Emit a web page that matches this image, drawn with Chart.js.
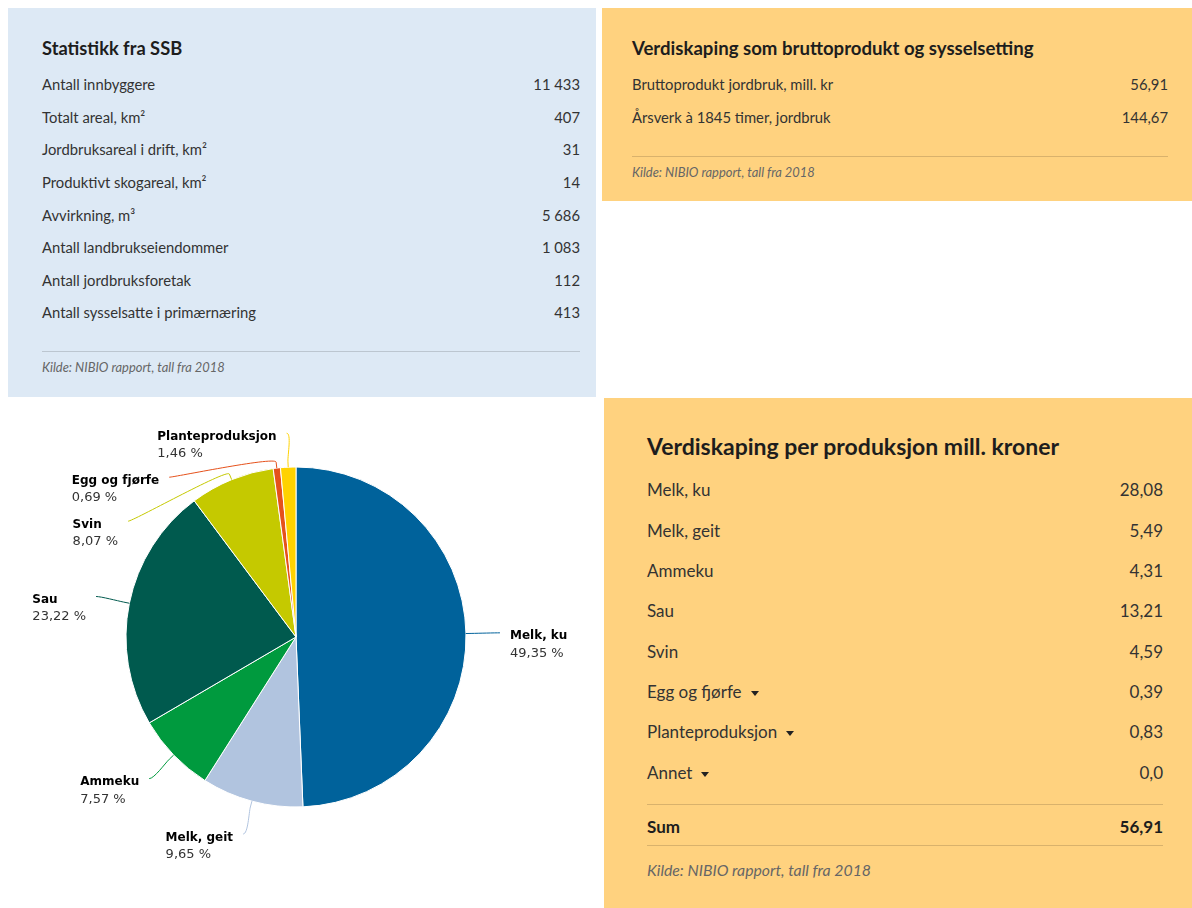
<!DOCTYPE html>
<html lang="no">
<head>
<meta charset="utf-8">
<script src="https://cdn.jsdelivr.net/npm/chart.js@4"></script>
<style>
  body { margin:0; width:1192px; height:908px; position:relative; overflow:hidden; background:#fff;
         font-family: Lato, "Noto Sans", sans-serif; color:#333; }
  .panel { position:absolute; box-sizing:border-box; }
  .blaa { background:#dde9f5; }
  .oransje { background:#ffd27f; }
  .panel > div { position:absolute; }
  .tittel { color:#1d1d1d; font-weight:700; white-space:nowrap; }
  .rad { display:flex; justify-content:space-between; align-items:center; white-space:nowrap; }
  .strek { height:1px; background:rgba(0,0,0,0.15); }
  .kilde { font-style:italic; color:#666; white-space:nowrap; }
  .pil { display:inline-block; width:0; height:0; margin-left:9px; vertical-align:middle;
         border-left:4px solid transparent; border-right:4px solid transparent; border-top:5px solid #222; }
  #pieboks { position:absolute; left:0; top:400px; width:600px; height:508px; }
</style>
</head>
<body>

<div class="panel blaa" style="left:8px;top:8px;width:588px;height:389px">
  <div class="tittel" style="left:34px;top:27px;font-size:18.3px;line-height:26px">Statistikk fra SSB</div>
  <div id="ssb" style="left:34px;right:16px;top:60px;font-size:14.8px"></div>
  <div class="strek" style="left:34px;right:16px;top:343px"></div>
  <div class="kilde" style="left:34px;top:350px;font-size:12.9px;line-height:18px">Kilde: NIBIO rapport, tall fra 2018</div>
</div>

<div class="panel oransje" style="left:602px;top:8px;width:590px;height:193px">
  <div class="tittel" style="left:30px;top:27px;font-size:18.6px;line-height:26px">Verdiskaping som bruttoprodukt og sysselsetting</div>
  <div id="brutto" style="left:30px;right:24px;top:59.5px;font-size:14.8px"></div>
  <div class="strek" style="left:30px;right:24px;top:148px"></div>
  <div class="kilde" style="left:30px;top:155px;font-size:12.9px;line-height:18px">Kilde: NIBIO rapport, tall fra 2018</div>
</div>

<div id="pieboks"><canvas id="kake"></canvas></div>

<div class="panel oransje" style="left:604px;top:398px;width:588px;height:510px">
  <div class="tittel" style="left:43px;top:32px;font-size:23px;line-height:32px">Verdiskaping per produksjon mill. kroner</div>
  <div id="produksjon" style="left:43px;right:29px;top:71.85px;font-size:17px"></div>
  <div class="strek" style="left:43px;right:29px;top:406px"></div>
  <div id="sum" class="rad" style="left:43px;right:29px;top:408px;height:40px;font-size:17px;font-weight:700;color:#1d1d1d"></div>
  <div class="strek" style="left:43px;right:29px;top:447px"></div>
  <div class="kilde" style="left:43px;top:462px;font-size:15.8px;line-height:20px">Kilde: NIBIO rapport, tall fra 2018</div>
</div>

<script>
// Statistikk fra SSB
const ssbLabels = [
  'Antall innbyggere',
  'Totalt areal, km²',
  'Jordbruksareal i drift, km²',
  'Produktivt skogareal, km²',
  'Avvirkning, m³',
  'Antall landbrukseiendommer',
  'Antall jordbruksforetak',
  'Antall sysselsatte i primærnæring'
];
const ssbValues = [11433, 407, 31, 14, 5686, 1083, 112, 413];

// Bruttoprodukt og sysselsetting
const bruttoLabels = ['Bruttoprodukt jordbruk, mill. kr', 'Årsverk à 1845 timer, jordbruk'];
const bruttoValues = [56.91, 144.67];

// Verdiskaping per produksjon
const produksjoner = ['Melk, ku', 'Melk, geit', 'Ammeku', 'Sau', 'Svin', 'Egg og fjørfe', 'Planteproduksjon', 'Annet'];
const verdiskaping = [28.08, 5.49, 4.31, 13.21, 4.59, 0.39, 0.83, 0.0];
const harUndergrupper = [false, false, false, false, false, true, true, true];
const sumVerdiskaping = 56.91;
const farger = ['#00629b', '#b1c4df', '#009a3e', '#005a4e', '#c5c900', '#e5511b', '#ffd200'];

const heltall = v => String(v).replace(/\B(?=(\d{3})+(?!\d))/g, '\u00a0');
const desimal = v => (v === 0 ? v.toFixed(1) : v.toFixed(2)).replace('.', ',');

function lagRader(el, labels, values, fmt, hoyde, piler) {
  labels.forEach((l, i) => {
    const rad = document.createElement('div');
    rad.className = 'rad';
    rad.style.height = hoyde + 'px';
    const navn = document.createElement('span');
    navn.textContent = l;
    if (piler && piler[i]) {
      const p = document.createElement('span');
      p.className = 'pil';
      navn.appendChild(p);
    }
    const verdi = document.createElement('span');
    verdi.textContent = fmt(values[i]);
    rad.append(navn, verdi);
    el.appendChild(rad);
  });
}

lagRader(document.getElementById('ssb'), ssbLabels, ssbValues, heltall, 32.6);
lagRader(document.getElementById('brutto'), bruttoLabels, bruttoValues, desimal, 33);
lagRader(document.getElementById('produksjon'), produksjoner, verdiskaping, desimal, 40.3, harUndergrupper);
document.getElementById('sum').innerHTML = '<span>Sum</span><span>' + desimal(sumVerdiskaping) + '</span>';

// kakediagram, uten tomme kategorier
const kakeLabels = produksjoner.filter((_, i) => verdiskaping[i] > 0);
const kakeData = verdiskaping.filter(v => v > 0);
const total = kakeData.reduce((a, b) => a + b, 0);

// etiketter med koblingslinjer
const etiketter = {
  id: 'etiketter',
  afterDatasetsDraw(chart) {
    const ctx = chart.ctx;
    const arcs = chart.getDatasetMeta(0).data;
    const avstand = 34;
    const items = arcs.map((arc, i) => {
      const p = arc.getProps(['x', 'y', 'startAngle', 'endAngle', 'outerRadius'], true);
      const mid = (p.startAngle + p.endAngle) / 2;
      const dx = Math.cos(mid), dy = Math.sin(mid);
      return { i, cx: p.x, cy: p.y, r: p.outerRadius, dx, dy, side: dx >= 0 ? 1 : -1,
               y: p.y + (p.outerRadius + avstand) * dy };
    });
    [1, -1].forEach(side => {
      const grp = items.filter(it => it.side === side).sort((a, b) => a.y - b.y);
      for (let k = 1; k < grp.length; k++) {
        if (grp[k].y < grp[k - 1].y + 44) grp[k].y = grp[k - 1].y + 44;
      }
    });

    ctx.save();
    items.forEach(it => {
      const R = it.r + avstand;
      const off = Math.sqrt(Math.max(R * R - (it.y - it.cy) ** 2, 0));
      const lx = it.cx + it.side * off, ly = it.y;
      const tx = it.cx + it.r * it.dx, ty = it.cy + it.r * it.dy;
      const bx = it.cx + (it.r + 6) * it.dx, by = it.cy + (it.r + 6) * it.dy;

      ctx.beginPath();
      ctx.moveTo(lx, ly);
      ctx.bezierCurveTo(lx - it.side * 5, ly, 2 * bx - tx, 2 * by - ty, bx, by);
      ctx.lineTo(tx, ty);
      ctx.strokeStyle = farger[it.i];
      ctx.lineWidth = 1;
      ctx.stroke();

      const navn = kakeLabels[it.i];
      const pst = (kakeData[it.i] / total * 100).toFixed(2).replace('.', ',') + ' %';
      const fontNavn = 'bold 12px "DejaVu Sans", Verdana, sans-serif';
      const fontPst = '13px "DejaVu Sans", Verdana, sans-serif';
      ctx.textBaseline = 'middle';
      ctx.textAlign = 'left';
      ctx.font = fontNavn;
      const w1 = ctx.measureText(navn).width;
      ctx.font = fontPst;
      const w2 = ctx.measureText(pst).width;
      const x0 = it.side > 0 ? lx + 10 : lx - 10 - Math.max(w1, w2);
      ctx.fillStyle = '#000';
      ctx.font = fontNavn;
      ctx.fillText(navn, x0, ly + 3.5);
      ctx.fillStyle = '#333';
      ctx.font = fontPst;
      ctx.fillText(pst, x0, ly + 20.5);
    });
    ctx.restore();
  }
};

new Chart(document.getElementById('kake'), {
  type: 'pie',
  data: {
    labels: kakeLabels,
    datasets: [{
      data: kakeData,
      backgroundColor: farger,
      borderColor: '#fff',
      borderWidth: 1,
      radius: 170
    }]
  },
  options: {
    responsive: true,
    maintainAspectRatio: false,
    animation: false,
    layout: { padding: { left: 100, right: 108, top: 50, bottom: 84 } },
    plugins: {
      legend: { display: false },
      tooltip: { enabled: false }
    }
  },
  plugins: [etiketter]
});
</script>
</body>
</html>
